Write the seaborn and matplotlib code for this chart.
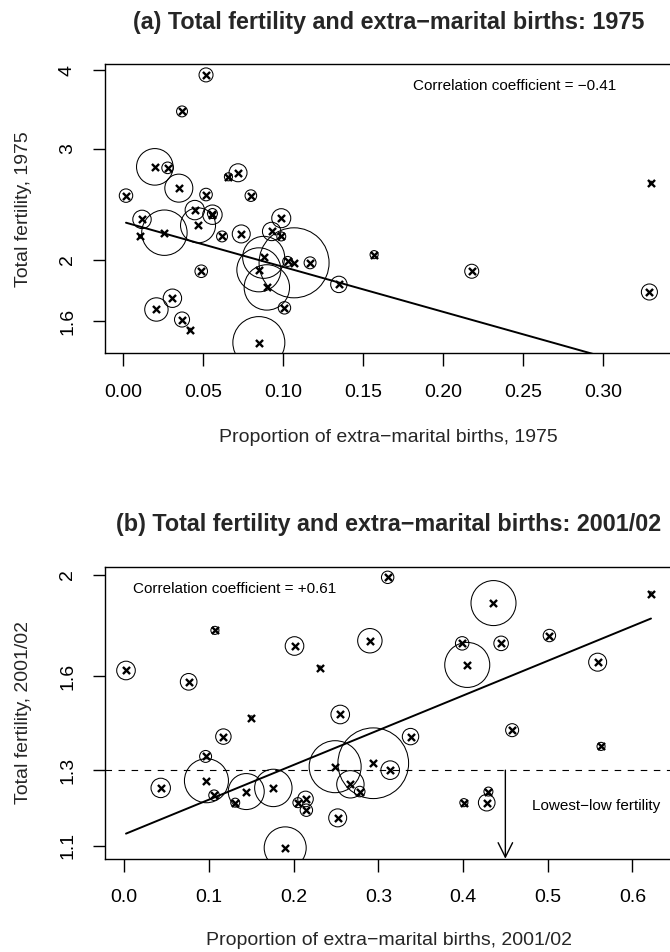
import numpy as np
import pandas as pd
import matplotlib
matplotlib.use("Agg")
import matplotlib.pyplot as plt
import seaborn as sns
from matplotlib.ticker import FixedLocator, FixedFormatter, NullLocator

# ---- 1975: proportion of extra-marital births, total fertility, population (millions)
emb_1975 = [0.052, 0.037, 0.020, 0.028, 0.035, 0.002, 0.052, 0.072, 0.066, 0.080,
            0.012, 0.011, 0.026, 0.045, 0.047, 0.056, 0.056, 0.062, 0.074, 0.093,
            0.099, 0.099, 0.088, 0.085, 0.090, 0.103, 0.107, 0.117, 0.135, 0.049,
            0.031, 0.021, 0.037, 0.042, 0.085, 0.101, 0.157, 0.218, 0.330, 0.329]
tfr_1975 = [3.93, 3.44, 2.81, 2.80, 2.60, 2.53, 2.54, 2.75, 2.71, 2.53,
            2.32, 2.18, 2.21, 2.40, 2.27, 2.36, 2.37, 2.18, 2.20, 2.22,
            2.33, 2.18, 2.02, 1.93, 1.81, 1.99, 1.98, 1.98, 1.83, 1.92,
            1.74, 1.67, 1.61, 1.55, 1.48, 1.68, 2.04, 1.92, 2.65, 1.78]
pop_1975 = [5.1, 3.1, 34.8, 3.5, 20.4, 4.7, 4.1, 8.4, 1.7, 3.5,
            8.8, 0.3, 53.6, 9.8, 31.9, 9.8, 2.6, 3.1, 8.4, 8.8,
            9.4, 2.1, 45.9, 50.4, 53.6, 2.6, 127.5, 3.7, 7.0, 4.1,
            8.8, 14.2, 5.9, 0.3, 70.3, 4.0, 1.7, 5.1, 0.3, 6.7]

# ---- 2001/02
emb_2002 = [0.002, 0.107, 0.201, 0.231, 0.076, 0.150, 0.255, 0.117, 0.096, 0.097,
            0.043, 0.106, 0.144, 0.131, 0.176, 0.205, 0.214, 0.215, 0.252, 0.249,
            0.267, 0.278, 0.294, 0.314, 0.190, 0.311, 0.436, 0.622, 0.290, 0.399,
            0.445, 0.502, 0.405, 0.559, 0.338, 0.458, 0.563, 0.430, 0.428, 0.401]
tfr_2002 = [1.62, 1.77, 1.71, 1.63, 1.58, 1.46, 1.47, 1.40, 1.34, 1.27,
            1.25, 1.23, 1.24, 1.21, 1.25, 1.21, 1.22, 1.19, 1.17, 1.31,
            1.26, 1.24, 1.32, 1.30, 1.095, 1.99, 1.88, 1.92, 1.73, 1.72,
            1.72, 1.75, 1.64, 1.65, 1.40, 1.42, 1.37, 1.24, 1.21, 1.21]
pop_2002 = [9.0, 1.7, 9.0, 0.3, 7.2, 0.3, 9.0, 6.2, 3.7, 50.4,
            9.8, 2.9, 33.7, 2.1, 36.4, 2.6, 6.3, 4.0, 8.4, 70.3,
            19.5, 2.9, 130.0, 9.0, 45.9, 4.0, 52.7, 0.3, 15.5, 4.7,
            5.5, 4.0, 52.7, 8.4, 7.0, 4.4, 1.7, 2.1, 7.2, 1.7]

# log-linear fits: log(TFR) = a + b * EMB
fit_1975 = (0.8327, -1.641)
fit_2002 = (0.1207, 0.766)

corr_1975 = "\u22120.41"
corr_2002 = "+0.61"
lowest_low = 1.3

xticks_1975 = [0.00, 0.05, 0.10, 0.15, 0.20, 0.25, 0.30]
xticklabels_1975 = ["0.00", "0.05", "0.10", "0.15", "0.20", "0.25", "0.30"]
yticks_1975 = [1.6, 2, 3, 4]
yticklabels_1975 = ["1.6", "2", "3", "4"]
xticks_2002 = [0.0, 0.1, 0.2, 0.3, 0.4, 0.5, 0.6]
xticklabels_2002 = ["0.0", "0.1", "0.2", "0.3", "0.4", "0.5", "0.6"]
yticks_2002 = [1.1, 1.3, 1.6, 2]
yticklabels_2002 = ["1.1", "1.3", "1.6", "2"]

sns.set_theme(style="white")
plt.rcParams["font.family"] = ["Liberation Sans", "DejaVu Sans"]
plt.rcParams["lines.scale_dashes"] = False

W, H = 670, 952
fig = plt.figure(figsize=(W / 100, H / 100), dpi=100)

BASE = 14.0
SMALL = 11.0
TITLE = 16.8
PX = 72 / 100  # points per pixel


def fx(px):
    return px / W


def fy(py):
    return 1 - py / H


def r_range(v, log=False):
    v = np.asarray(v, dtype=float)
    if log:
        lv = np.log(v)
        d = 0.04 * (lv.max() - lv.min())
        return np.exp(lv.min() - d), np.exp(lv.max() + d)
    d = 0.04 * (v.max() - v.min())
    return v.min() - d, v.max() + d


def panel(ax, emb, tfr, pop, fit, xt, xtl, yt, ytl):
    df = pd.DataFrame({"emb": emb, "tfr": tfr, "pop": pop})
    ax.set_yscale("log")
    k = (2 * 3.1 * PX) ** 2  # circle radius ~ 3.1 px * sqrt(pop)
    pmin, pmax = df["pop"].min(), df["pop"].max()
    sns.scatterplot(data=df, x="emb", y="tfr", size="pop",
                    sizes=(k * pmin, k * pmax), size_norm=(pmin, pmax),
                    marker="o", facecolor="none", edgecolor="black",
                    linewidth=0.75, legend=False, ax=ax, zorder=2)
    sns.scatterplot(data=df, x="emb", y="tfr", marker="x", s=26,
                    color="black", linewidth=1.7, legend=False, ax=ax, zorder=3)
    xs = np.array([df["emb"].min(), df["emb"].max()])
    sns.lineplot(x=xs, y=np.exp(fit[0] + fit[1] * xs), color="black",
                 linewidth=1.4, ax=ax, zorder=4)
    ax.set_xlim(*r_range(emb))
    ax.set_ylim(*r_range(tfr, log=True))
    ax.xaxis.set_major_locator(FixedLocator(xt))
    ax.xaxis.set_major_formatter(FixedFormatter(xtl))
    ax.yaxis.set_major_locator(FixedLocator(yt))
    ax.yaxis.set_major_formatter(FixedFormatter(ytl))
    ax.yaxis.set_minor_locator(NullLocator())
    ax.set_xlabel("")
    ax.set_ylabel("")
    for s in ax.spines.values():
        s.set_visible(True)
        s.set_color("black")
        s.set_linewidth(1.0)
    ax.tick_params(axis="both", which="major", direction="out", length=9,
                   width=1.0, color="black", labelsize=BASE, labelcolor="black",
                   bottom=True, left=True)
    ax.tick_params(axis="x", pad=19)
    ax.tick_params(axis="y", pad=18)
    plt.setp(ax.get_xticklabels(), va="center")
    plt.setp(ax.get_yticklabels(), rotation=90, va="center", ha="center")
    ax.grid(False)
    ax.set_facecolor("white")


# ---- panel (a)
top_a, bot_a = 64.2, 353.3
ax1 = fig.add_axes([fx(105), fy(bot_a), fx(672) - fx(105), (bot_a - top_a) / H])
panel(ax1, emb_1975, tfr_1975, pop_1975, fit_1975,
      xticks_1975, xticklabels_1975, yticks_1975, yticklabels_1975)
ax1.text(0.245, 3.78, "Correlation coefficient = " + corr_1975,
         ha="center", va="center", fontsize=SMALL, color="black")

# ---- panel (b)
top_b, bot_b = 566.5, 858.7
ax2 = fig.add_axes([fx(105), fy(bot_b), fx(672) - fx(105), (bot_b - top_b) / H])
panel(ax2, emb_2002, tfr_2002, pop_2002, fit_2002,
      xticks_2002, xticklabels_2002, yticks_2002, yticklabels_2002)
ax2.axhline(lowest_low, color="black", linewidth=0.8, linestyle=(0, (4.7, 4.7)),
            zorder=1)
ax2.text(0.13, 1.94, "Correlation coefficient = " + corr_2002,
         ha="center", va="center", fontsize=SMALL, color="black")
ax2.annotate("", xy=(0.45, ax2.get_ylim()[0]), xytext=(0.45, lowest_low),
             arrowprops=dict(arrowstyle="->,head_length=0.4,head_width=0.2",
                             color="black", lw=1.0, shrinkA=0, shrinkB=0,
                             mutation_scale=26), zorder=5)
ax2.text(0.557, 1.20, "Lowest\u2212low fertility", ha="center", va="center",
         fontsize=SMALL, color="black")

# ---- titles and axis labels
cx = fx((105 + 672) / 2)
fig.text(cx, fy(22), "(a) Total fertility and extra\u2212marital births: 1975",
         ha="center", va="center", fontsize=TITLE, fontweight="bold")
fig.text(cx, fy(524.5), "(b) Total fertility and extra\u2212marital births: 2001/02",
         ha="center", va="center", fontsize=TITLE, fontweight="bold")
fig.text(cx, fy(bot_a + 84), "Proportion of extra\u2212marital births, 1975",
         ha="center", va="center", fontsize=BASE)
fig.text(cx, fy(bot_b + 82), "Proportion of extra\u2212marital births, 2001/02",
         ha="center", va="center", fontsize=BASE)
fig.text(fx(24), fy((top_a + bot_a) / 2), "Total fertility, 1975",
         ha="center", va="center", rotation=90, fontsize=BASE)
fig.text(fx(24), fy((top_b + bot_b) / 2), "Total fertility, 2001/02",
         ha="center", va="center", rotation=90, fontsize=BASE)

fig.savefig("out.png", dpi=100, facecolor="white")
